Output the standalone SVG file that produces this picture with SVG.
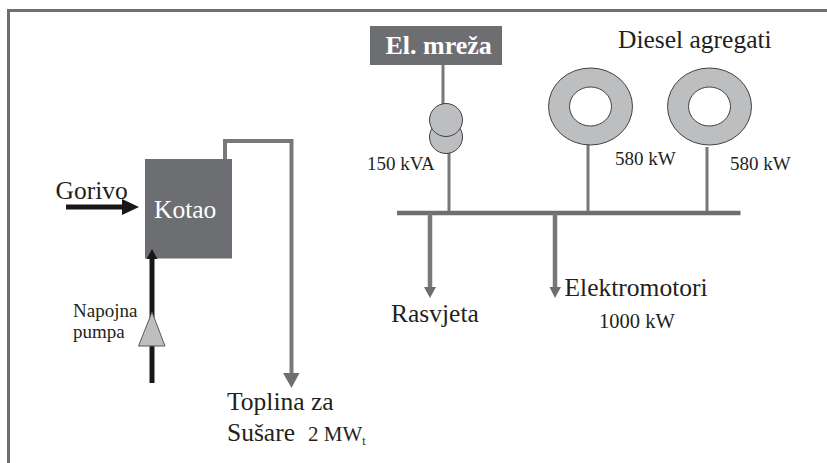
<svg xmlns="http://www.w3.org/2000/svg" width="827" height="463" viewBox="0 0 827 463">
<style>
text{font-family:"Liberation Serif","Times New Roman",serif;fill:#231f20}
.t25{font-size:25.500px}.t19{font-size:19px}
.g{fill:none;stroke:#77787b}
.k{fill:none;stroke:#1a1718}
.fg{fill:#6d6e71}.fb{fill:#1a1718}
.o{fill:#bcbec0;stroke:#414042;stroke-width:1}
</style>
<rect width="827" height="463" fill="#fff"/>
<g id="frame"><path d="M8.500 463V10.500H827" fill="none" stroke="#6d6e71" stroke-width="3"/></g>
<g id="kotao"><rect x="145" y="159" width="87" height="99.500" fill="#6d6e71"/><text class="t25" x="154" y="218" style="fill:#fff">Kotao</text></g>
<g id="mreza"><rect x="370" y="26" width="132" height="39" fill="#6d6e71"/><text x="385.500" y="54" font-size="26" font-weight="bold" style="fill:#fff">El. mreža</text></g>
<g id="connectors">
<path class="g" stroke-width="4" d="M225 159V141H291.500V378"/>
<polygon class="fg" points="283,373 299.500,373 291.500,388"/>
<path class="k" stroke-width="5" d="M66 207H124"/>
<polygon class="fb" points="122,199 139,207 122,215"/>
<path class="k" stroke-width="5" d="M152 255V383"/>
<polygon class="fb" points="152,249 146.500,259 157.500,259"/>
<path class="g" stroke-width="3" d="M443 65V105M449 152V213M588 141V213M707 147V213"/>
<path d="M397 213H740.500" fill="none" stroke="#6d6e71" stroke-width="4.500"/>
<path class="g" stroke-width="4.500" d="M430 213V290M555 213V290"/>
<polygon class="fg" points="424,287 436,287 430,298"/>
<polygon class="fg" points="549.500,287 561,287 555,298"/>
</g>
<g id="gorivo"><text class="t25" x="55.500" y="199">Gorivo</text></g>
<g id="pumpa"><polygon points="152,312 138.500,346 165,346" fill="#bcbec0" stroke="#58595b"/><text class="t19" x="73" y="317">Napojna</text><text class="t19" x="73" y="338">pumpa</text></g>
<g id="toplina"><text class="t25" x="227" y="410">Toplina za</text><text class="t25" x="227" y="441">Sušare</text><text x="308" y="441" font-size="21">2 MW<tspan font-size="12" dy="4">t</tspan></text></g>
<g id="transformer"><circle class="o" cx="446" cy="137" r="16.500"/><circle class="o" cx="446" cy="120" r="16.500"/><text class="t19" x="367" y="170">150 kVA</text></g>
<g id="diesel-label"><text class="t25" x="618" y="48">Diesel agregati</text></g>
<g id="diesel1"><ellipse class="o" cx="590.500" cy="106.500" rx="42" ry="38.500"/><ellipse cx="590.500" cy="106.500" rx="21" ry="19.500" fill="#fff" stroke="#414042"/><text class="t19" x="615" y="165">580 kW</text></g>
<g id="diesel2"><ellipse class="o" cx="709.500" cy="106.500" rx="42" ry="38.500"/><ellipse cx="709.500" cy="106.500" rx="21" ry="19.500" fill="#fff" stroke="#414042"/><text class="t19" x="730" y="170">580 kW</text></g>
<g id="rasvjeta"><text class="t25" x="391" y="322">Rasvjeta</text></g>
<g id="elektromotori"><text class="t25" x="564.500" y="296">Elektromotori</text><text x="599" y="328" font-size="20.500">1000 kW</text></g>
</svg>
